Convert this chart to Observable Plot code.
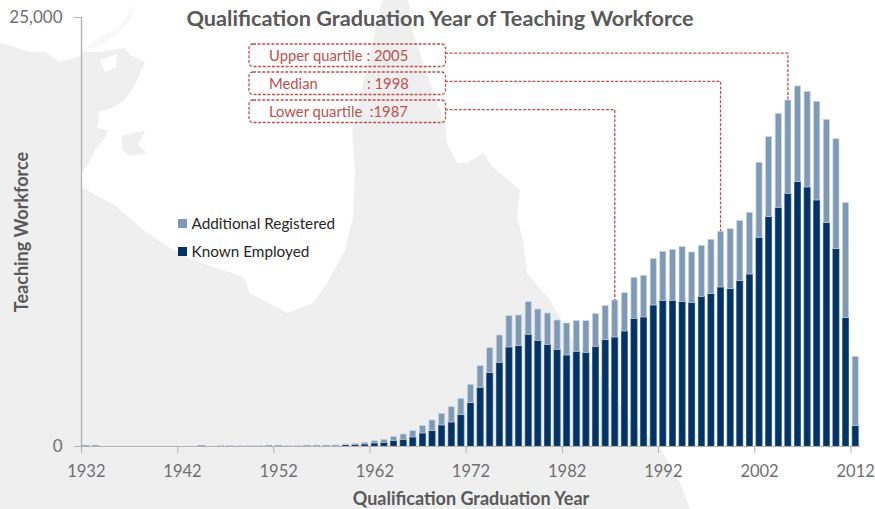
<!DOCTYPE html>
<html><head><meta charset="utf-8">
<style>html,body{margin:0;padding:0;background:#fff}svg{display:block}</style>
<script src="https://cdn.jsdelivr.net/npm/d3@7"></script>
<script src="https://cdn.jsdelivr.net/npm/@observablehq/plot@0.6"></script>
</head><body><div id="chart"></div>
<script>
const firstYear = 1932;
const knownEmployed = [
 25,25,0,0,0,0,0,0,0,0,
 0,0,25,0,20,20,10,20,20,25,
 25,20,20,25,25,30,40,78,97,117,
 175,214,330,389,525,758,894,1224,1399,1826,
 2525,3419,4274,4876,5770,5847,6508,6158,5925,5634,
 5303,5517,5459,5808,6197,6353,6702,7440,7518,8218,
 8489,8489,8431,8373,8722,8878,9267,9169,9635,10024,
 12161,13366,13910,14725,15405,15094,14337,13016,11500,7479,
 1185];
const additionalRegistered = [
 10,10,0,0,0,0,0,0,0,0,
 0,0,10,0,10,10,25,15,15,15,
 15,15,15,15,15,15,20,40,58,97,
 136,175,234,311,369,427,621,679,893,952,
 1069,1263,1456,1593,1825,1788,1904,1826,1826,1709,
 1866,1788,1846,1904,1982,2156,2234,2390,2429,2700,
 2856,2973,3186,2933,2973,3167,3245,3498,3498,3594,
 4371,4661,5477,5440,5576,5576,5750,6021,6410,6703,
 4040];
const years = knownEmployed.map((_, i) => String(firstYear + i));
const tickYears = ["1932","1942","1952","1962","1972","1982","1992","2002","2012"];
const seriesNames = ["Known Employed", "Additional Registered"];
const seriesColors = ["#003366", "#7f9ab6"];
const annotations = [
 {text: "Upper quartile : 2005", year: "2005", level: 22900, box: 44},
 {text: "Median             : 1998", year: "1998", level: 21250, box: 72},
 {text: "Lower quartile  :1987", year: "1987", level: 19600, box: 100}
];

const rows = [];
years.forEach((year, i) => {
  if (knownEmployed[i]) rows.push({year, series: seriesNames[0], value: knownEmployed[i]});
  if (additionalRegistered[i]) rows.push({year, series: seriesNames[1], value: additionalRegistered[i]});
});

const font = "Lato, Carlito, sans-serif";
const plot = Plot.plot({
  width: 875, height: 509,
  marginLeft: 81, marginRight: 15, marginTop: 17, marginBottom: 63,
  style: {fontFamily: font, background: "transparent", overflow: "visible"},
  x: {domain: years, padding: 0, round: false},
  y: {domain: [0, 25000]},
  color: {domain: seriesNames, range: seriesColors},
  marks: [
    Plot.barY(rows, {x: "year", y: "value", fill: "series", order: seriesNames,
      insetLeft: 1.75, insetRight: 1.75,
      stroke: d => d.series === seriesNames[1] ? "#c9d5e2" : "#2a5482", strokeWidth: 0.7}),
    Plot.frame({anchor: "left", stroke: "#b3b3b3", strokeWidth: 1.4}),
    Plot.ruleY([0], {stroke: "#b3b3b3", strokeWidth: 1.2}),
    Plot.axisY({ticks: [0, 25000], tickFormat: d3.format(","), tickSize: 7, tickPadding: 12, stroke: "#b3b3b3",
      fontSize: 17, color: "#6f6f6f", label: "Teaching Workforce", labelAnchor: "center", labelArrow: "none", labelOffset: 66}),
    Plot.axisX({ticks: tickYears, tickSize: 0, tickPadding: 19, fontSize: 16.5, color: "#6f6f6f",
      label: "Qualification Graduation Year", labelAnchor: "center", labelArrow: "none", labelOffset: 58}),
    Plot.tickX(tickYears, {x: d => d, y1: 0, dx: -4.8, stroke: "#b3b3b3", strokeWidth: 1,
      insetBottom: -7, insetTop: 429})
  ]
});

const svg = d3.select(plot);
svg.selectAll('[aria-label="y-axis label"] text, [aria-label="x-axis label"] text, [aria-label="y-axis label"], [aria-label="x-axis label"]')
  .attr("font-weight", "700").attr("font-size", 18).attr("fill", "#595959");

// pale map behind everything
const bg = svg.insert("g", ":first-child");
bg.append("path").attr("fill", "#f8f8f8")
  .attr("d", "M83,50L100,37L118,28L128,14L136,5L130,20L118,34L100,46Z");
bg.append("path").attr("fill", "#efefef").attr("d",
  "M0,43L12,46L30,52L45,52L60,62L80,56L83,52L100,52L125,48L130,55L145,62L135,85L125,100L112,108L100,115L97,128L108,130L105,138L95,150L88,165L81,172" +
  "L81,187L115,205L143,230L165,245L193,260L243,277L250,293L287,313L313,303L327,283L345,250L353,217L355,167L352,133L363,83L375,33L382,0L408,0" +
  "L413,33L430,83L445,123L447,143L457,163L467,163L483,153L493,167L520,190L517,217L523,240L527,273L550,300L575,345L600,375L630,420L660,447L680,483L690,509L0,509Z");
bg.append("path").attr("fill", "#efefef").attr("d", "M122,136L132,133L145,131L138,145L147,153L130,156L122,150Z");
bg.append("path").attr("fill", "#ffffff").attr("d", "M100,60L117,54L116,68L105,72Z");
bg.append("path").attr("fill", "#ffffff").attr("d", "M98,112L112,108L114,122L100,128Z");

// title
svg.append("text").text("Qualification Graduation Year of Teaching Workforce")
  .attr("x", 440).attr("y", 26).attr("text-anchor", "middle")
  .attr("font-size", 21.7).attr("font-weight", 700).attr("fill", "#595959").attr("font-family", font);

// legend
[[seriesNames[1], seriesColors[1], 219], [seriesNames[0], seriesColors[0], 247]].forEach(([name, color, y]) => {
  svg.append("rect").attr("x", 178).attr("y", y).attr("width", 9).attr("height", 9).attr("fill", color);
  svg.append("text").text(name).attr("x", 191.5).attr("y", y + 10).attr("font-size", 15.3)
    .attr("text-anchor", "start").attr("fill", "#262626").attr("font-family", font);
});

// quartile call-outs, anchored through the chart's own scales
const xs = plot.scale("x"), ys = plot.scale("y");
const totalOf = year => { const i = years.indexOf(year); return knownEmployed[i] + additionalRegistered[i]; };
const red = "#c0504d";
annotations.forEach(a => {
  const cx = xs.apply(a.year) + xs.bandwidth / 2;
  const ly = ys.apply(a.level), by = ys.apply(totalOf(a.year));
  svg.append("path").attr("fill", "none").attr("stroke", red).attr("stroke-width", 1.3)
    .attr("stroke-dasharray", "3 1.6")
    .attr("d", `M445,${ly}H${cx}V${by}`);
  svg.append("rect").attr("x", 249).attr("y", a.box).attr("width", 196.5).attr("height", 22.5).attr("rx", 4)
    .attr("fill", "none").attr("stroke", red).attr("stroke-width", 1.3).attr("stroke-dasharray", "3 1.6");
  svg.append("text").text(a.text).attr("x", 269).attr("y", a.box + 17).attr("font-size", 14.8)
    .attr("text-anchor", "start").attr("fill", red).attr("font-family", font).style("white-space", "pre");
});

document.getElementById("chart").append(plot);
</script></body></html>
